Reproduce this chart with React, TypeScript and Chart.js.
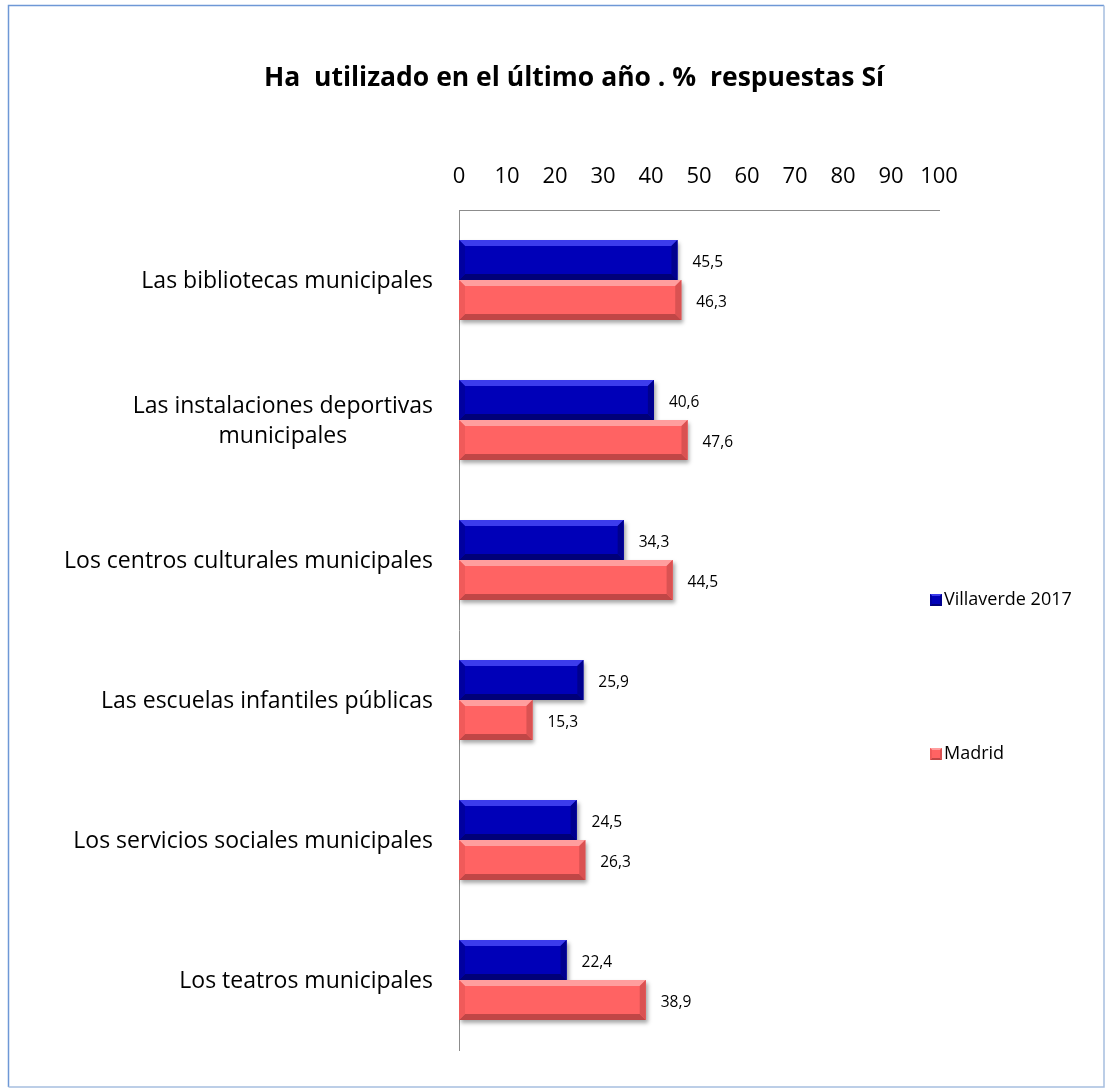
import React, { useEffect, useRef } from "react";
import { Chart, registerables } from "chart.js";

Chart.register(...registerables);

const titleText = "Ha  utilizado en el último año . %  respuestas Sí";
const categories: (string | string[])[] = [
  "Las bibliotecas municipales",
  ["Las instalaciones deportivas", "municipales"],
  "Los centros culturales municipales",
  "Las escuelas infantiles públicas",
  "Los servicios sociales municipales",
  "Los teatros municipales",
];
const seriesNames = ["Villaverde 2017", "Madrid"];
const villaverde = [45.5, 40.6, 34.3, 25.9, 24.5, 22.4];
const madrid = [46.3, 47.6, 44.5, 15.3, 26.3, 38.9];
const xMin = 0;
const xMax = 100;
const xStep = 10;

const FONT = "'Open Sans', Lato, sans-serif";

const palettes = [
  { face: "#0000B8", top: "#3C3CEC", bottom: "#000078", right: "#00008E", left: "#0000A0" },
  { face: "#FF6363", top: "#FF9E9E", bottom: "#C04646", right: "#DA5252", left: "#F05A5A" },
];

function bevelRect(ctx: CanvasRenderingContext2D, l: number, t: number, r: number, b: number, p: any, d: number) {
  ctx.fillStyle = p.face;
  ctx.fillRect(l, t, r - l, b - t);
  const dd = Math.min(d, (b - t) / 2, (r - l) / 2);
  const poly = (pts: number[][], c: string) => {
    ctx.beginPath();
    ctx.moveTo(pts[0][0], pts[0][1]);
    for (let i = 1; i < pts.length; i++) ctx.lineTo(pts[i][0], pts[i][1]);
    ctx.closePath();
    ctx.fillStyle = c;
    ctx.fill();
  };
  poly([[l, t], [r, t], [r - dd, t + dd], [l + dd, t + dd]], p.top);
  poly([[l, b], [r, b], [r - dd, b - dd], [l + dd, b - dd]], p.bottom);
  poly([[r, t], [r, b], [r - dd, b - dd], [r - dd, t + dd]], p.right);
  poly([[l, t], [l, b], [l + dd, b - dd], [l + dd, t + dd]], p.left);
}

const decorPlugin = {
  id: "decor",
  beforeDraw(chart: any) {
    const ctx = chart.ctx;
    ctx.save();
    ctx.fillStyle = "#ffffff";
    ctx.fillRect(0, 0, chart.width, chart.height);
    ctx.lineWidth = 1.5;
    ctx.strokeStyle = "#6E98D6";
    ctx.beginPath();
    ctx.moveTo(8.5, 1087);
    ctx.lineTo(8.5, 5.5);
    ctx.lineTo(1104, 5.5);
    ctx.stroke();
    ctx.strokeStyle = "#A6BFDF";
    ctx.beginPath();
    ctx.moveTo(1104, 5.5);
    ctx.lineTo(1104, 1087);
    ctx.lineTo(8.5, 1087);
    ctx.stroke();
    ctx.restore();
  },
  beforeDatasetsDraw(chart: any) {
    const ctx = chart.ctx;
    ctx.save();
    ctx.shadowColor = "rgba(0,0,0,0.35)";
    ctx.shadowBlur = 4;
    ctx.shadowOffsetX = 2;
    ctx.shadowOffsetY = 3;
  },
  afterDatasetsDraw(chart: any) {
    const ctx = chart.ctx;
    ctx.restore();
    ctx.save();
    chart.data.datasets.forEach((ds: any, di: number) => {
      const meta = chart.getDatasetMeta(di);
      meta.data.forEach((bar: any, i: number) => {
        const h = bar.height;
        const l = Math.min(bar.base, bar.x);
        const r = Math.max(bar.base, bar.x);
        const t = bar.y - h / 2;
        const b = bar.y + h / 2;
        bevelRect(ctx, l, t, r, b, palettes[di], 6);
        const v = ds.data[i] as number;
        ctx.fillStyle = "#000000";
        ctx.font = `15.5px ${FONT}`;
        ctx.textAlign = "left";
        ctx.textBaseline = "middle";
        ctx.fillText(v.toFixed(1).replace(".", ","), r + 15, bar.y + 3);
      });
    });
    ctx.restore();
  },
  afterDraw(chart: any) {
    const ctx = chart.ctx;
    const area = chart.chartArea;
    const yScale = chart.scales.y;
    ctx.save();
    // title
    ctx.fillStyle = "#000000";
    ctx.font = `bold 26.5px ${FONT}`;
    ctx.textAlign = "center";
    ctx.textBaseline = "middle";
    ctx.fillText(titleText, 574, 78);
    // category labels
    ctx.font = `23px ${FONT}`;
    const lh = 30;
    chart.data.labels.forEach((lab: any, i: number) => {
      const lines: string[] = Array.isArray(lab) ? lab : [lab];
      const w = Math.max(...lines.map((s) => ctx.measureText(s).width));
      const rightEdge = area.left - 26;
      const cx = rightEdge - w / 2;
      const cy = yScale.getPixelForValue(i) + 1;
      const y0 = cy - ((lines.length - 1) * lh) / 2;
      ctx.textAlign = "center";
      lines.forEach((s, k) => ctx.fillText(s, cx, y0 + k * lh));
    });
    // legend
    const legendY = [600, 754];
    chart.data.datasets.forEach((ds: any, di: number) => {
      const y = legendY[di];
      ctx.save();
      bevelRect(ctx, 930, y - 6, 942, y + 6, palettes[di], 2);
      ctx.restore();
      ctx.fillStyle = "#000000";
      ctx.font = `18px ${FONT}`;
      ctx.textAlign = "left";
      ctx.textBaseline = "middle";
      ctx.fillText(ds.label, 944, y);
    });
    ctx.restore();
  },
};

export default function App() {
  const ref = useRef<HTMLCanvasElement | null>(null);
  useEffect(() => {
    document.body.style.margin = "0";
    const canvas = ref.current;
    if (!canvas) return;
    const chart = new Chart(canvas, {
      type: "bar",
      data: {
        labels: categories as any,
        datasets: [
          { label: seriesNames[0], data: villaverde, backgroundColor: palettes[0].face, borderWidth: 0 },
          { label: seriesNames[1], data: madrid, backgroundColor: palettes[1].face, borderWidth: 0 },
        ],
      },
      options: {
        indexAxis: "y",
        responsive: false,
        animation: false,
        devicePixelRatio: 1,
        categoryPercentage: 80 / 140,
        barPercentage: 1,
        layout: { padding: { left: 0, right: 175, top: 0, bottom: 38 } },
        plugins: {
          legend: { display: false },
          title: { display: false },
          tooltip: { enabled: false },
        },
        scales: {
          x: {
            position: "top",
            min: xMin,
            max: xMax,
            grid: { display: false, drawTicks: false },
            border: { display: true, color: "#8C8C8C", width: 1 },
            ticks: {
              stepSize: xStep,
              padding: 20,
              color: "#000000",
              font: { family: FONT, size: 22 },
            },
            afterFit(scale: any) {
              scale.height = 210;
            },
          },
          y: {
            grid: { display: false, drawTicks: false },
            border: { display: true, color: "#8C8C8C", width: 1 },
            ticks: { display: false },
            afterFit(scale: any) {
              scale.width = 459;
            },
          },
        },
      } as any,
      plugins: [decorPlugin],
    });
    return () => chart.destroy();
  }, []);
  return <canvas ref={ref} width={1114} height={1088} style={{ display: "block" }} />;
}
